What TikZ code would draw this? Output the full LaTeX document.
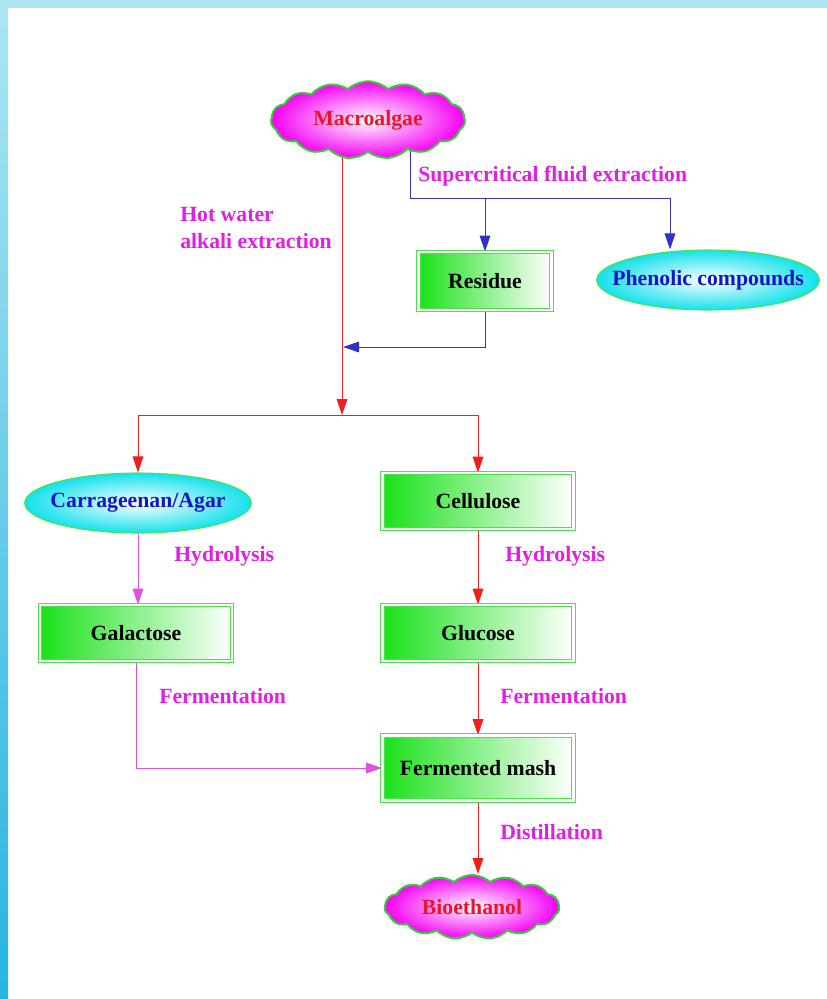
\documentclass[tikz,border=0pt]{standalone}
\usepackage{fontspec}
\setmainfont{Liberation Serif}
\usetikzlibrary{shapes.geometric,shapes.symbols,arrows.meta,backgrounds}

\definecolor{framecyan}{RGB}{172,230,242}
\definecolor{framedeep}{RGB}{40,180,225}
\definecolor{fillgreen}{RGB}{25,225,25}
\definecolor{boxgreen}{RGB}{70,230,70}
\definecolor{ovalcyan}{RGB}{20,225,235}
\definecolor{ovalblue}{RGB}{20,20,200}
\definecolor{puffmagenta}{RGB}{245,0,245}
\definecolor{puffgreen}{RGB}{60,200,60}
\definecolor{algaered}{RGB}{235,20,40}
\definecolor{labelmagenta}{RGB}{225,30,225}
\definecolor{linered}{RGB}{240,30,30}
\definecolor{lineblue}{RGB}{50,50,200}
\definecolor{linepink}{RGB}{225,80,225}

\newcommand{\ovaltext}[1]{\makebox[0pt]{#1}}

\begin{document}
\begin{tikzpicture}[x=0.75pt,y=-0.75pt,font=\fontsize{16.3}{20}\selectfont\bfseries]
    \tikzset{>={Triangle[length=12pt,width=8pt]}}
    \tikzset{
        greenbox/.style={draw=boxgreen, double=white, double distance=2pt, line width=0.6pt,
            left color=fillgreen, right color=white, inner sep=0pt},
        oval/.style={ellipse, draw=boxgreen, line width=0.8pt, inner color=white,
            outer color=ovalcyan, text=ovalblue, inner sep=0pt},
        puff/.style={cloud, cloud puffs=15, cloud puff arc=85, cloud ignores aspect, draw=puffgreen,
            line width=1.5pt, inner color=white, outer color=puffmagenta, text=algaered, inner sep=0pt},
        tag/.style={text=labelmagenta, anchor=base west, inner sep=0pt, align=left},
        redline/.style={draw=linered, line width=0.75pt},
        blueline/.style={draw=lineblue, line width=0.75pt},
        pinkline/.style={draw=linepink, line width=0.75pt}
    }
    \useasboundingbox (0,0) rectangle (827,999);

    \coordinate (sfe) at (410,198);
    \coordinate (merge) at (343,347);
    \coordinate (split) at (342,415);

    \node[puff, minimum width=145.5pt, minimum height=58pt] (macro) at (368,120) {Macroalgae};
    \node[greenbox, minimum width=99.75pt, minimum height=43.5pt] (residue) at (485,281) {Residue};
    \node[oval, minimum width=167pt, minimum height=45pt] (phen) at (708,280) {\ovaltext{Phenolic compounds}};
    \node[oval, minimum width=170pt, minimum height=45pt] (carr) at (138,503) {\ovaltext{Carrageenan/Agar}};
    \node[greenbox, minimum width=143.25pt, minimum height=42pt] (cell) at (478,501) {Cellulose};
    \node[greenbox, minimum width=144pt, minimum height=42pt] (gal) at (136,633) {Galactose};
    \node[greenbox, minimum width=143.25pt, minimum height=42pt] (gluc) at (478,633) {Glucose};
    \node[greenbox, minimum width=143.25pt, minimum height=48.75pt] (mash) at (478,768) {Fermented mash};
    \node[puff, minimum width=131pt, minimum height=48pt] (bio) at (472,907) {Bioethanol};

    \node[tag] (hotwater) at (180,248) {Hot water\\alkali extraction};
    \node[tag] (scfe) at (418,181) {Supercritical fluid extraction};
    \node[tag] (hydroleft) at (174,561) {Hydrolysis};
    \node[tag] (hydroright) at (505,561) {Hydrolysis};
    \node[tag] (fermleft) at (159,703) {Fermentation};
    \node[tag] (fermright) at (500,703) {Fermentation};
    \node[tag] (distil) at (500,839) {Distillation};

    \begin{pgfonlayer}{background}
        \fill[white] (0,0) rectangle (827,999);
        \fill[framecyan] (0,0) rectangle (827,8);
        \shade[top color=framecyan, bottom color=framedeep] (0,0) rectangle (8,999);

        \draw[redline,->] (macro.center -| split) -- (split);
        \draw[redline,->] (split) -| (carr.north);
        \draw[redline,->] (split) -| (cell.north);
        \draw[blueline] (macro.center -| sfe) -- (sfe);
        \draw[blueline,->] (sfe) -| (residue.north);
        \draw[blueline,->] (sfe) -| ([xshift=-28.5pt]phen.north);
        \draw[blueline,->] (residue.south) |- (merge);
        \draw[pinkline,->] (carr.south) -- (carr.south |- gal.north);
        \draw[pinkline,->] (gal.south) |- (mash.west);
        \draw[redline,->] (cell.south) -- (gluc.north);
        \draw[redline,->] (gluc.south) -- (mash.north);
        \draw[redline,->] (mash.south) -- (mash.south |- bio.north);
    \end{pgfonlayer}
\end{tikzpicture}
\end{document}
